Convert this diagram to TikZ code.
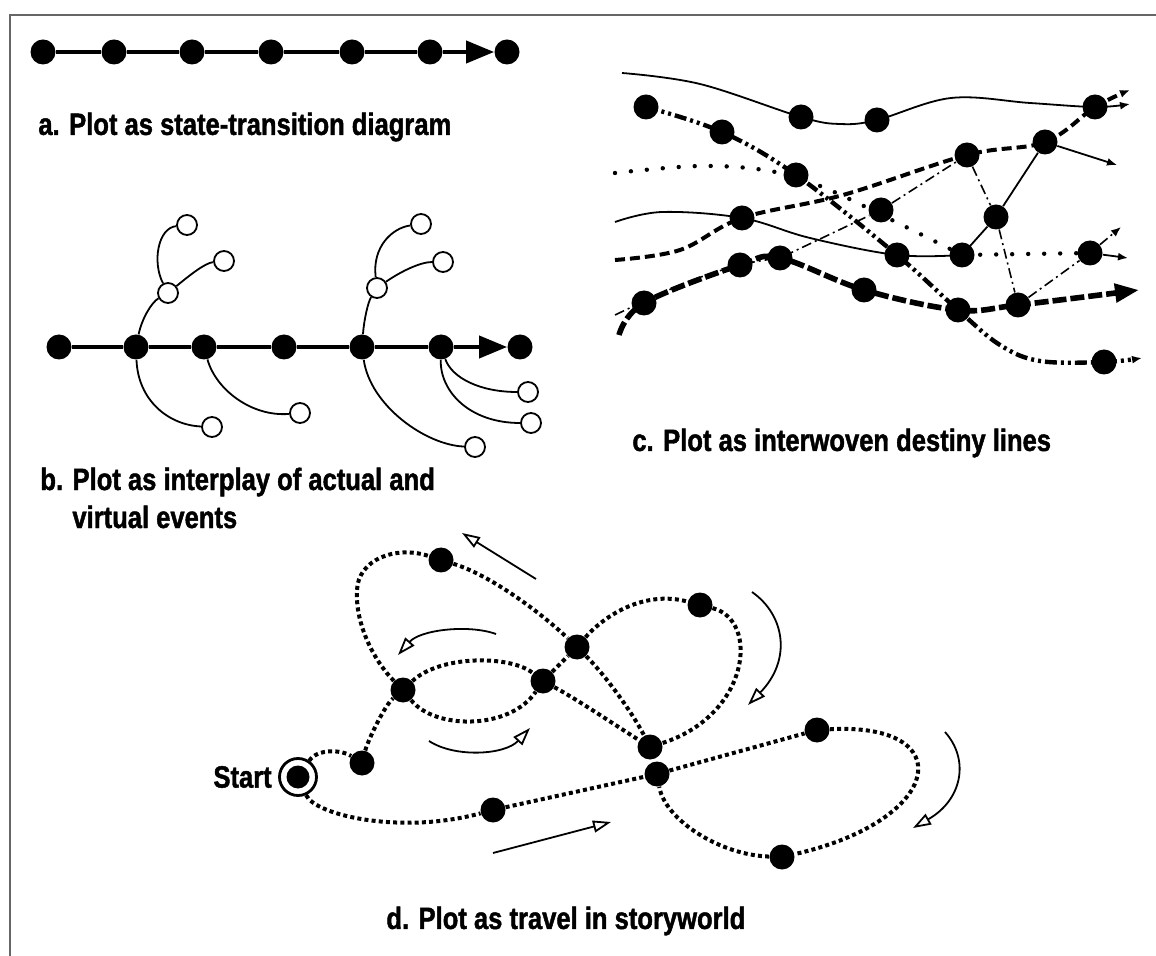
\documentclass[tikz,border=0pt]{standalone}
\usepackage{fontspec}
\usepackage{tikz}
\usetikzlibrary{arrows.meta, positioning}
\newfontfamily\capfont[FakeStretch=0.83, FakeBold=1.4]{Liberation Sans}

\begin{document}
\begin{tikzpicture}[
    x=0.5pt, y=-0.5pt,
    evt/.style={circle, fill=black, inner sep=0pt, minimum size=12.5pt},
    vevt/.style={circle, draw, fill=white, inner sep=0pt, minimum size=10pt,
                 line width=0.9pt},
    ring/.style={circle, draw, line width=1.4pt, inner sep=0pt,
                 minimum size=18.5pt},
    mainline/.style={line width=2pt},
    branch/.style={line width=0.9pt},
    capt/.style={font={\capfont\bfseries\fontsize{15.4pt}{19pt}\selectfont},
                 anchor=west, inner sep=0pt, align=left},
    thinline/.style={line width=0.9pt},
    dashline/.style={line width=2pt, dash pattern=on 5pt off 2.5pt},
    dotline/.style={line width=2.2pt, line cap=round, dash pattern=on 0pt off 8pt},
    ddline/.style={line width=2.2pt,
                   dash pattern=on 6pt off 2pt on 1.5pt off 2pt on 1.5pt off 2pt},
    dotdash/.style={line width=0.8pt, dash pattern=on 5pt off 2pt on 1pt off 2pt},
    heavyline/.style={line width=2.8pt, dash pattern=on 7pt off 2pt},
    travel/.style={line width=2pt, dash pattern=on 2pt off 1.6pt},
    hint/.style={line width=0.9pt, -{Triangle[open, length=9pt, width=6pt]}},
    bigtip/.style={-{Triangle[length=14pt, width=11pt]}},
    smalltip/.style={-{Latex[length=5pt, width=4pt]}}
]
\useasboundingbox (0,0) rectangle (1156,956);

% frame
\draw[gray!80!black, line width=1.3pt] (10,956) -- (10,15) -- (1156,15);

% a. state-transition diagram
\node[evt] (a1) at (43,52) {};
\node[evt] (a2) at (114,52) {};
\node[evt] (a3) at (192,52) {};
\node[evt] (a4) at (271,52) {};
\node[evt] (a5) at (352,52) {};
\node[evt] (a6) at (430,52) {};
\node[evt] (a7) at (507,52) {};
\draw[mainline] (a1) -- (a2) -- (a3) -- (a4) -- (a5) -- (a6);
\draw[mainline, bigtip] (a6) -- (a7);
\node[capt] (capa) at (38,127) {a. Plot as state-transition diagram};

% b. actual and virtual events
\node[evt] (b1) at (59,347) {};
\node[evt] (b2) at (136,347) {};
\node[evt] (b3) at (204,347) {};
\node[evt] (b4) at (284,347) {};
\node[evt] (b5) at (362,347) {};
\node[evt] (b6) at (441,347) {};
\node[evt] (b7) at (520,347) {};
\draw[mainline] (b1) -- (b2) -- (b3) -- (b4) -- (b5) -- (b6);
\draw[mainline, bigtip] (b6) -- (b7);

\node[vevt] (o1) at (187,225) {};
\node[vevt] (o2) at (224,261) {};
\node[vevt] (o3) at (168,293) {};
\node[vevt] (o4) at (212,427) {};
\node[vevt] (o5) at (300,413) {};
\node[vevt] (o6) at (421,224) {};
\node[vevt] (o7) at (443,262) {};
\node[vevt] (o8) at (377,288) {};
\node[vevt] (o9) at (475,447) {};
\node[vevt] (o10) at (528,392) {};
\node[vevt] (o11) at (531,423) {};

\draw[branch] (b2) .. controls (142,318) and (152,302) .. (o3);
\draw[branch] (o3) .. controls (152,262) and (158,228) .. (o1);
\draw[branch] (o3) .. controls (190,275) and (205,263) .. (o2);
\draw[branch] (b2) .. controls (138,400) and (168,425) .. (o4);
\draw[branch] (b3) .. controls (216,390) and (252,417) .. (o5);
\draw[branch] (b5) .. controls (364,320) and (368,302) .. (o8);
\draw[branch] (o8) .. controls (372,247) and (392,228) .. (o6);
\draw[branch] (o8) .. controls (400,272) and (420,262) .. (o7);
\draw[branch] (b5) .. controls (370,405) and (425,445) .. (o9);
\draw[branch] (b6) .. controls (452,378) and (480,392) .. (o10);
\draw[branch] (b6) .. controls (440,392) and (470,423) .. (o11);

\node[capt] (capb) at (40,498)
    {b. Plot as interplay of actual and\\\hspace*{16pt}virtual events};

% c. interwoven destiny lines
\node[evt] (c1) at (646,107) {};
\node[evt] (c2) at (722,132) {};
\node[evt] (c3) at (801,117) {};
\node[evt] (c4) at (877,120) {};
\node[evt] (c5) at (796,175) {};
\node[evt] (c6) at (967,155) {};
\node[evt] (c7) at (1045,142) {};
\node[evt] (c8) at (1095,107) {};
\node[evt] (c9) at (742,218) {};
\node[evt] (c10) at (881,210) {};
\node[evt] (c11) at (996,217) {};
\node[evt] (c12) at (897,255) {};
\node[evt] (c13) at (962,255) {};
\node[evt] (c14) at (1090,253) {};
\node[evt] (c15) at (644,303) {};
\node[evt] (c16) at (740,265) {};
\node[evt] (c17) at (780,258) {};
\node[evt] (c18) at (864,290) {};
\node[evt] (c19) at (958,310) {};
\node[evt] (c20) at (1018,305) {};
\node[evt] (c21) at (1104,362) {};

\coordinate (sA) at (622,73);   \coordinate (eA) at (1130,104);
\coordinate (sB) at (615,222);  \coordinate (eB) at (1117,165);
\coordinate (sC) at (615,260);  \coordinate (eC) at (1130,90);
\coordinate (sD) at (615,173);  \coordinate (eD) at (1128,258);
\coordinate (eE) at (1142,358);
\coordinate (sF) at (615,315);  \coordinate (eF) at (1121,227);
\coordinate (sG) at (619,335);  \coordinate (eG) at (1139,290);

\draw[thinline, smalltip] plot[smooth, tension=0.6] coordinates
    {(sA) (700,84) (c3) (840,124) (c4) (951,98) (1030,103) (c8) (eA)};
\draw[thinline, smalltip] plot[smooth, tension=0.6] coordinates
    {(sB) (662,212) (c9) (810,238) (c12) (c13)} -- (c11) -- (c7) -- (eB);
\draw[dashline, smalltip] plot[smooth, tension=0.6] coordinates
    {(sC) (680,250) (c9) (843,195) (c6) (c7) (c8) (eC)};
\draw[dotline] plot[smooth, tension=0.6] coordinates
    {(sD) (700,166) (770,171) (825,188) (908,228) (c13)} -- (c14);
\draw[thinline, smalltip] (c14) -- (eD);
\draw[ddline, smalltip] plot[smooth, tension=0.6] coordinates
    {(c1) (c2) (c5) (c12) (c19) (1000,345) (1040,361) (c21) (eE)};
\draw[dotdash, smalltip] plot[smooth, tension=0.6] coordinates
    {(sF) (685,283) (c16) (c17)} -- (c10) -- (c6) -- (c11) -- (c20) -- (c14) -- (eF);
\draw[heavyline, -{Triangle[length=12pt, width=9pt]}] plot[smooth, tension=0.6]
    coordinates {(sG) (c15) (c16) (c17) (c18) (c19) (c20) (eG)};

\node[capt] (capc) at (632,443) {c. Plot as interwoven destiny lines};

% d. travel in storyworld
\node[evt, minimum size=11.5pt] (start) at (298,777) {};
\node[ring] (startring) at (start) {};
\node[capt, left=3pt of startring] (startlbl) {Start};
\node[evt] (p1) at (362,763) {};
\node[evt] (p2) at (403,690) {};
\node[evt] (p3) at (441,560) {};
\node[evt] (p4) at (577,647) {};
\node[evt] (p5) at (543,681) {};
\node[evt] (p6) at (700,605) {};
\node[evt] (p7) at (650,747) {};
\node[evt] (p8) at (657,774) {};
\node[evt] (p9) at (493,810) {};
\node[evt] (p10) at (817,730) {};
\node[evt] (p11) at (782,857) {};

\draw[travel] (startring) .. controls (318,748) and (342,750) .. (p1);
\draw[travel] (p1) .. controls (368,740) and (385,705) .. (p2);
\draw[travel] (p2) .. controls (375,662) and (355,625) .. (357,590)
    .. controls (358,560) and (395,545) .. (p3);
\draw[travel] (p3) .. controls (490,575) and (540,612) .. (p4);
\draw[travel] (p4) .. controls (605,675) and (632,712) .. (p7);
\draw[travel] (p5) .. controls (578,700) and (615,725) .. (p7);
\draw[travel] (p5) -- (p4);
\draw[travel] (p4) .. controls (605,615) and (645,590) .. (p6);
\draw[travel] (p6) .. controls (760,620) and (750,715) .. (p7);
\draw[travel] (p2) .. controls (440,655) and (510,655) .. (p5);
\draw[travel] (p2) .. controls (435,730) and (510,730) .. (p5);
\draw[travel] (startring) .. controls (315,815) and (400,835) .. (p9);
\draw[travel] (p9) -- (p8) -- (p10);
\draw[travel] (p10) .. controls (960,722) and (945,820) .. (p11);
\draw[travel] (p11) .. controls (720,855) and (665,820) .. (p8);

% direction hints
\coordinate (h1s) at (536,579);  \coordinate (h1e) at (462,533);
\coordinate (h2s) at (496,634);  \coordinate (h2e) at (398,655);
\coordinate (h3s) at (429,741);  \coordinate (h3e) at (530,728);
\coordinate (h4s) at (752,592);  \coordinate (h4e) at (748,705);
\coordinate (h5s) at (945,732);  \coordinate (h5e) at (913,828);
\coordinate (h6s) at (493,853);  \coordinate (h6e) at (611,822);
\draw[hint] (h1s) -- (h1e);
\draw[hint] (h2s) .. controls (468,624) and (420,630) .. (h2e);
\draw[hint] (h3s) .. controls (455,758) and (505,755) .. (h3e);
\draw[hint] (h4s) .. controls (785,615) and (792,660) .. (h4e);
\draw[hint] (h5s) .. controls (970,760) and (962,800) .. (h5e);
\draw[hint] (h6s) -- (h6e);

\node[capt] (capd) at (386,921) {d. Plot as travel in storyworld};

\end{tikzpicture}
\end{document}
